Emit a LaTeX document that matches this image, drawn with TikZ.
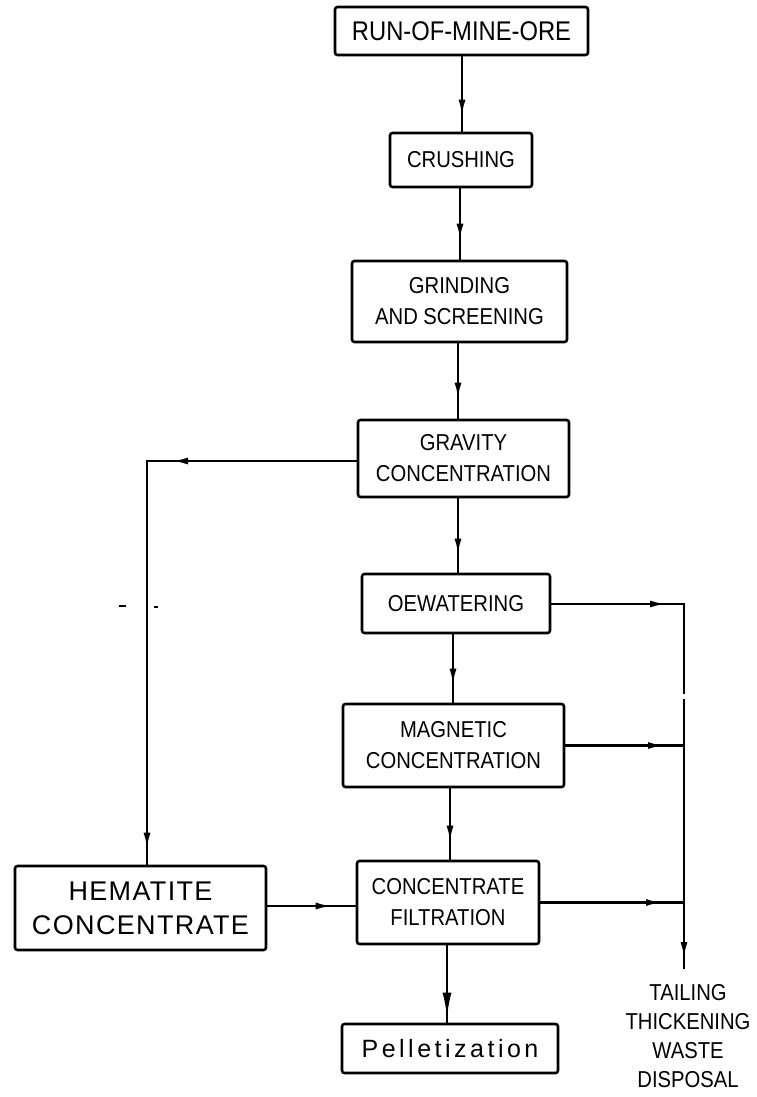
\documentclass[tikz,border=0pt]{standalone}
\usepackage{fontspec}
\setmainfont{Liberation Sans}
\newfontfamily\boxfont[FakeStretch=0.88]{Liberation Sans}
\newfontfamily\widefont[LetterSpace=5]{Liberation Sans}
\newfontfamily\pelfont[LetterSpace=14]{Liberation Sans}
\usetikzlibrary{arrows.meta,decorations.markings}

\begin{document}
\begin{tikzpicture}[x=1pt,y=-1pt,
  stage/.style={draw, line width=2.6pt, rounded corners=2.5pt, inner sep=0pt,
    align=center, font=\boxfont\fontsize{23}{31}\selectfont},
  wire/.style={line width=2.4pt, line cap=rect},
  arr/.style={wire, postaction={decorate},
    decoration={markings, mark=at position -#1 with {\arrow{Latex[length=16pt,width=7pt]}}}},
  bigarr/.style={wire, postaction={decorate},
    decoration={markings, mark=at position -#1 with {\arrow{Latex[length=25pt,width=9pt]}}}}
]
\useasboundingbox (0,0) rectangle (757,1097);

% process stages
\node[stage, minimum width=253pt, minimum height=48pt, font=\boxfont\fontsize{27}{31}\selectfont]
  (ore) at (461.5,31) {RUN-OF-MINE-ORE};
\node[stage, minimum width=142pt, minimum height=54pt] (crush) at (461,160) {CRUSHING};
\node[stage, minimum width=215pt, minimum height=81pt] (grind) at (459.5,301.5) {GRINDING\\AND SCREENING};
\node[stage, minimum width=211pt, minimum height=77pt] (grav) at (463.5,458.5) {GRAVITY\\CONCENTRATION};
\node[stage, minimum width=188pt, minimum height=59pt] (dew) at (456,603.5) {OEWATERING};
\node[stage, minimum width=221pt, minimum height=83pt] (mag) at (453.5,745.5) {MAGNETIC\\CONCENTRATION};
\node[stage, minimum width=182pt, minimum height=83pt] (filt) at (448,902.5) {CONCENTRATE\\FILTRATION};
\node[stage, minimum width=251pt, minimum height=84pt, font=\widefont\fontsize{27}{34}\selectfont]
  (hem) at (140.5,908) {HEMATITE\\CONCENTRATE};
\node[stage, minimum width=216pt, minimum height=49pt, font=\pelfont\fontsize{25}{30}\selectfont]
  (pel) at (450,1048.5) {Pelletization};
\node[align=center, inner sep=0pt, font=\boxfont\fontsize{23}{29}\selectfont]
  (tail) at (688,1036) {TAILING\\THICKENING\\WASTE\\DISPOSAL};

% main line
\draw[arr=16pt] (462,0 |- ore.south) -- (462,0 |- crush.north);
\draw[arr=20pt] (460,0 |- crush.south) -- (460,0 |- grind.north);
\draw[arr=20pt] (458,0 |- grind.south) -- (458,0 |- grav.north);
\draw[arr=18pt] (458,0 |- grav.south) -- (458,0 |- dew.north);
\draw[arr=18pt] (453,0 |- dew.south) -- (453,0 |- mag.north);
\draw[arr=18pt] (450,0 |- mag.south) -- (450,0 |- filt.north);
\draw[bigarr=5pt] (447,0 |- filt.south) -- (447,0 |- pel.north);

% hematite branch
\coordinate (lc) at (147,461);
\draw[arr=25pt] (grav.west |- lc) -- (lc);
\draw[arr=16pt] (lc) -- (lc |- hem.north);
\draw[arr=24pt] (hem.east |- 0,906) -- (filt.west |- 0,906);

% tailings collector
\coordinate (tr) at (684,604);
\coordinate (gapT) at (684,693);
\coordinate (gapB) at (684,700);
\coordinate (tend) at (684,968);
\draw[arr=18pt] (dew.east |- tr) -- (tr);
\draw[arr=20pt] (mag.east) -- (mag.east -| tr);
\draw[arr=22pt] (filt.east) -- (filt.east -| tr);
\draw[wire] (tr) -- (gapT);
\draw[arr=10pt] (gapB) -- (tend);

% small marks beside the return line
\draw[line width=2.4pt] (119,606) -- (126,606);
\draw[line width=2pt] (154,607) -- (158,607);
\end{tikzpicture}
\end{document}
